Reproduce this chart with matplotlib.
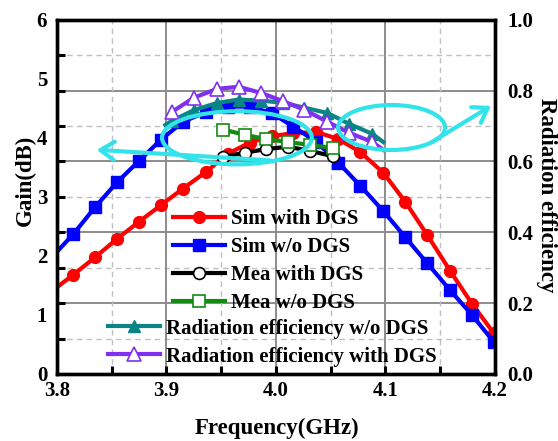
import matplotlib
matplotlib.use('Agg')
import matplotlib.pyplot as plt
import matplotlib.transforms as mtransforms
from matplotlib.patches import Ellipse, FancyArrowPatch
from matplotlib.ticker import MultipleLocator, NullLocator, FormatStrFormatter

plt.rcParams['font.family'] = ['Liberation Serif', 'DejaVu Serif']
plt.rcParams['font.weight'] = 'bold'

# ---------------- data ----------------
freq_sim = [3.800, 3.815, 3.835, 3.855, 3.875, 3.895, 3.915, 3.936, 3.956, 3.976, 3.996,
            4.016, 4.037, 4.057, 4.077, 4.098, 4.118, 4.138, 4.159, 4.179, 4.199]
gain_sim_dgs = [1.47, 1.68, 1.98, 2.29, 2.58, 2.86, 3.14, 3.42, 3.73, 3.92, 4.03,
                4.08, 4.10, 3.98, 3.76, 3.41, 2.92, 2.36, 1.75, 1.19, 0.69]
gain_sim_nodgs = [2.07, 2.37, 2.83, 3.25, 3.61, 3.97, 4.27, 4.44, 4.53, 4.53, 4.42,
                  4.19, 3.93, 3.58, 3.19, 2.76, 2.32, 1.88, 1.42, 1.00, 0.54]

freq_mea = [3.952, 3.972, 3.991, 4.011, 4.031, 4.052]
gain_mea_dgs = [3.68, 3.75, 3.81, 3.85, 3.78, 3.69]
gain_mea_nodgs = [4.14, 4.05, 3.98, 3.93, 3.88, 3.83]

freq_eff_nodgs = [3.899, 3.905, 3.925, 3.946, 3.966, 3.986, 4.006, 4.026, 4.047, 4.067, 4.088, 4.098]
eff_nodgs = [0.703, 0.715, 0.745, 0.765, 0.775, 0.772, 0.766, 0.752, 0.737, 0.706, 0.678, 0.655]
freq_eff_dgs = [3.905, 3.925, 3.946, 3.966, 3.986, 4.006, 4.026, 4.047, 4.067, 4.088, 4.098]
eff_dgs = [0.740, 0.780, 0.805, 0.811, 0.794, 0.771, 0.746, 0.712, 0.681, 0.655, 0.633]

labels = ['Sim with DGS', 'Sim w/o DGS', 'Mea with DGS', 'Mea w/o DGS',
          'Radiation efficiency w/o DGS', 'Radiation efficiency with DGS']

RED = '#ff0000'
BLUE = '#0000ff'
GREEN = '#138a13'
TEAL = '#0a8585'
PURPLE = '#8030f0'
CYAN = '#33e3ea'

# ---------------- figure ----------------
fig = plt.figure(figsize=(5.58, 4.41), dpi=100)
ax = fig.add_axes([0.102, 0.152, 0.785, 0.803])
ax2 = ax.twinx()

ax.set_xlim(3.8, 4.2)
ax.set_ylim(0, 6)
ax2.set_ylim(0, 1.0)

ax.xaxis.set_major_locator(MultipleLocator(0.1))
ax.xaxis.set_minor_locator(MultipleLocator(0.05))
ax.xaxis.set_major_formatter(FormatStrFormatter('%.1f'))
ax.yaxis.set_major_locator(MultipleLocator(1))
ax.yaxis.set_minor_locator(NullLocator())
ax.yaxis.set_major_formatter(FormatStrFormatter('%d'))
ax2.yaxis.set_major_locator(MultipleLocator(0.2))
ax2.yaxis.set_minor_locator(MultipleLocator(0.1))
ax2.yaxis.set_major_formatter(FormatStrFormatter('%.1f'))

# grid
ax.grid(which='major', axis='x', color='#8c8c8c', lw=1.4, zorder=0)
ax.grid(which='minor', axis='x', color='#c0c0c0', lw=1.0, ls=(0, (4, 3)), zorder=0)
ax.set_axisbelow(True)
blend = mtransforms.blended_transform_factory(ax.transAxes, ax2.transData)
for v in ax2.yaxis.get_majorticklocs():
    if 0 < v < 1:
        ax.plot([0, 1], [v, v], transform=blend, color='#8c8c8c', lw=1.4, zorder=0.5)
for v in ax2.yaxis.get_minorticklocs():
    if 0 < v < 1:
        ax.plot([0, 1], [v, v], transform=blend, color='#c0c0c0', lw=1.0,
                ls=(0, (4, 3)), zorder=0.5)

# ticks
ax.tick_params(axis='y', which='both', length=0, pad=7, labelsize=15)
ax.tick_params(axis='x', which='both', direction='in', length=6, width=2.2,
               top=False, pad=5, labelsize=15)
ax2.tick_params(axis='y', which='both', direction='in', length=6, width=2.2,
                left=True, right=False, labelleft=False, labelright=True,
                pad=9, labelsize=15)

for a in (ax, ax2):
    for s in a.spines.values():
        s.set_linewidth(2.4)
        s.set_color('black')

# data lines
lw = 3.0
mk_sim = list(range(1, len(freq_sim)))
h1, = ax.plot(freq_sim, gain_sim_dgs, color=RED, lw=lw, marker='o', ms=8.5,
              mfc=RED, mec=RED, markevery=mk_sim, zorder=3)
h2, = ax.plot(freq_sim, gain_sim_nodgs, color=BLUE, lw=lw, marker='s', ms=8,
              mfc=BLUE, mec=BLUE, markevery=mk_sim, zorder=3)
h3, = ax.plot(freq_mea, gain_mea_dgs, color='black', lw=lw, marker='o', ms=8.5,
              mfc='white', mec='black', mew=1.2, zorder=4)
h4, = ax.plot(freq_mea, gain_mea_nodgs, color=GREEN, lw=lw, marker='s', ms=8,
              mfc='white', mec=GREEN, mew=1.2, zorder=4)
h5, = ax2.plot(freq_eff_nodgs, eff_nodgs, color=TEAL, lw=lw, marker='^', ms=9,
               mfc=TEAL, mec=TEAL, markevery=list(range(1, len(freq_eff_nodgs) - 1)), zorder=3)
h6, = ax2.plot(freq_eff_dgs, eff_dgs, color=PURPLE, lw=lw, marker='^', ms=9.5,
               mfc='white', mec=PURPLE, mew=1.2,
               markevery=list(range(0, len(freq_eff_dgs) - 1)), zorder=4)

# labels
ax.set_xlabel('Frequency(GHz)', fontsize=16.5, fontweight='bold')
ax.set_ylabel('Gain(dB)', fontsize=16.5, fontweight='bold')
ax2.set_ylabel('Radiation efficiency', fontsize=16.5, fontweight='bold', rotation=270)
ax.xaxis.set_label_coords(0.503, -0.125)
ax.yaxis.set_label_coords(-0.073, 0.548)
ax2.yaxis.set_label_coords(1.117, 0.506)
ax2.yaxis.label.set_va('center')
ax.yaxis.label.set_va('center')

# legends
handles = [h1, h2, h3, h4, h5, h6]
kw = dict(frameon=False, fontsize=15, handlelength=2.5, handletextpad=0.3,
          labelspacing=0.385, borderpad=0, borderaxespad=0, loc='upper left')
leg1 = ax2.legend(handles[:4], labels[:4], bbox_to_anchor=(0.265, 0.466), **kw)
ax2.add_artist(leg1)
leg2 = ax2.legend(handles[4:], labels[4:], bbox_to_anchor=(0.117, 0.156), **kw)

# cyan annotations
e1 = Ellipse((0.411, 0.667), 0.342, 0.150, transform=ax2.transAxes, fill=False,
             ec=CYAN, lw=3.0, zorder=10)
e2 = Ellipse((0.764, 0.696), 0.244, 0.127, transform=ax2.transAxes, fill=False,
             ec=CYAN, lw=3.0, zorder=10)
ax2.add_patch(e1)
ax2.add_patch(e2)
a1 = FancyArrowPatch((0.487, 0.603), (0.091, 0.633), transform=ax2.transAxes,
                     arrowstyle='->,head_length=0.45,head_width=0.3', mutation_scale=22,
                     color=CYAN, lw=3.0, shrinkA=0, shrinkB=0, zorder=10)
a2 = FancyArrowPatch((0.856, 0.655), (0.991, 0.757), transform=ax2.transAxes,
                     arrowstyle='->,head_length=0.45,head_width=0.3', mutation_scale=22,
                     color=CYAN, lw=3.0, shrinkA=0, shrinkB=0, zorder=10)
a1.set_clip_on(False)
a2.set_clip_on(False)
ax2.add_patch(a1)
ax2.add_patch(a2)

fig.savefig('out.png', dpi=100)
